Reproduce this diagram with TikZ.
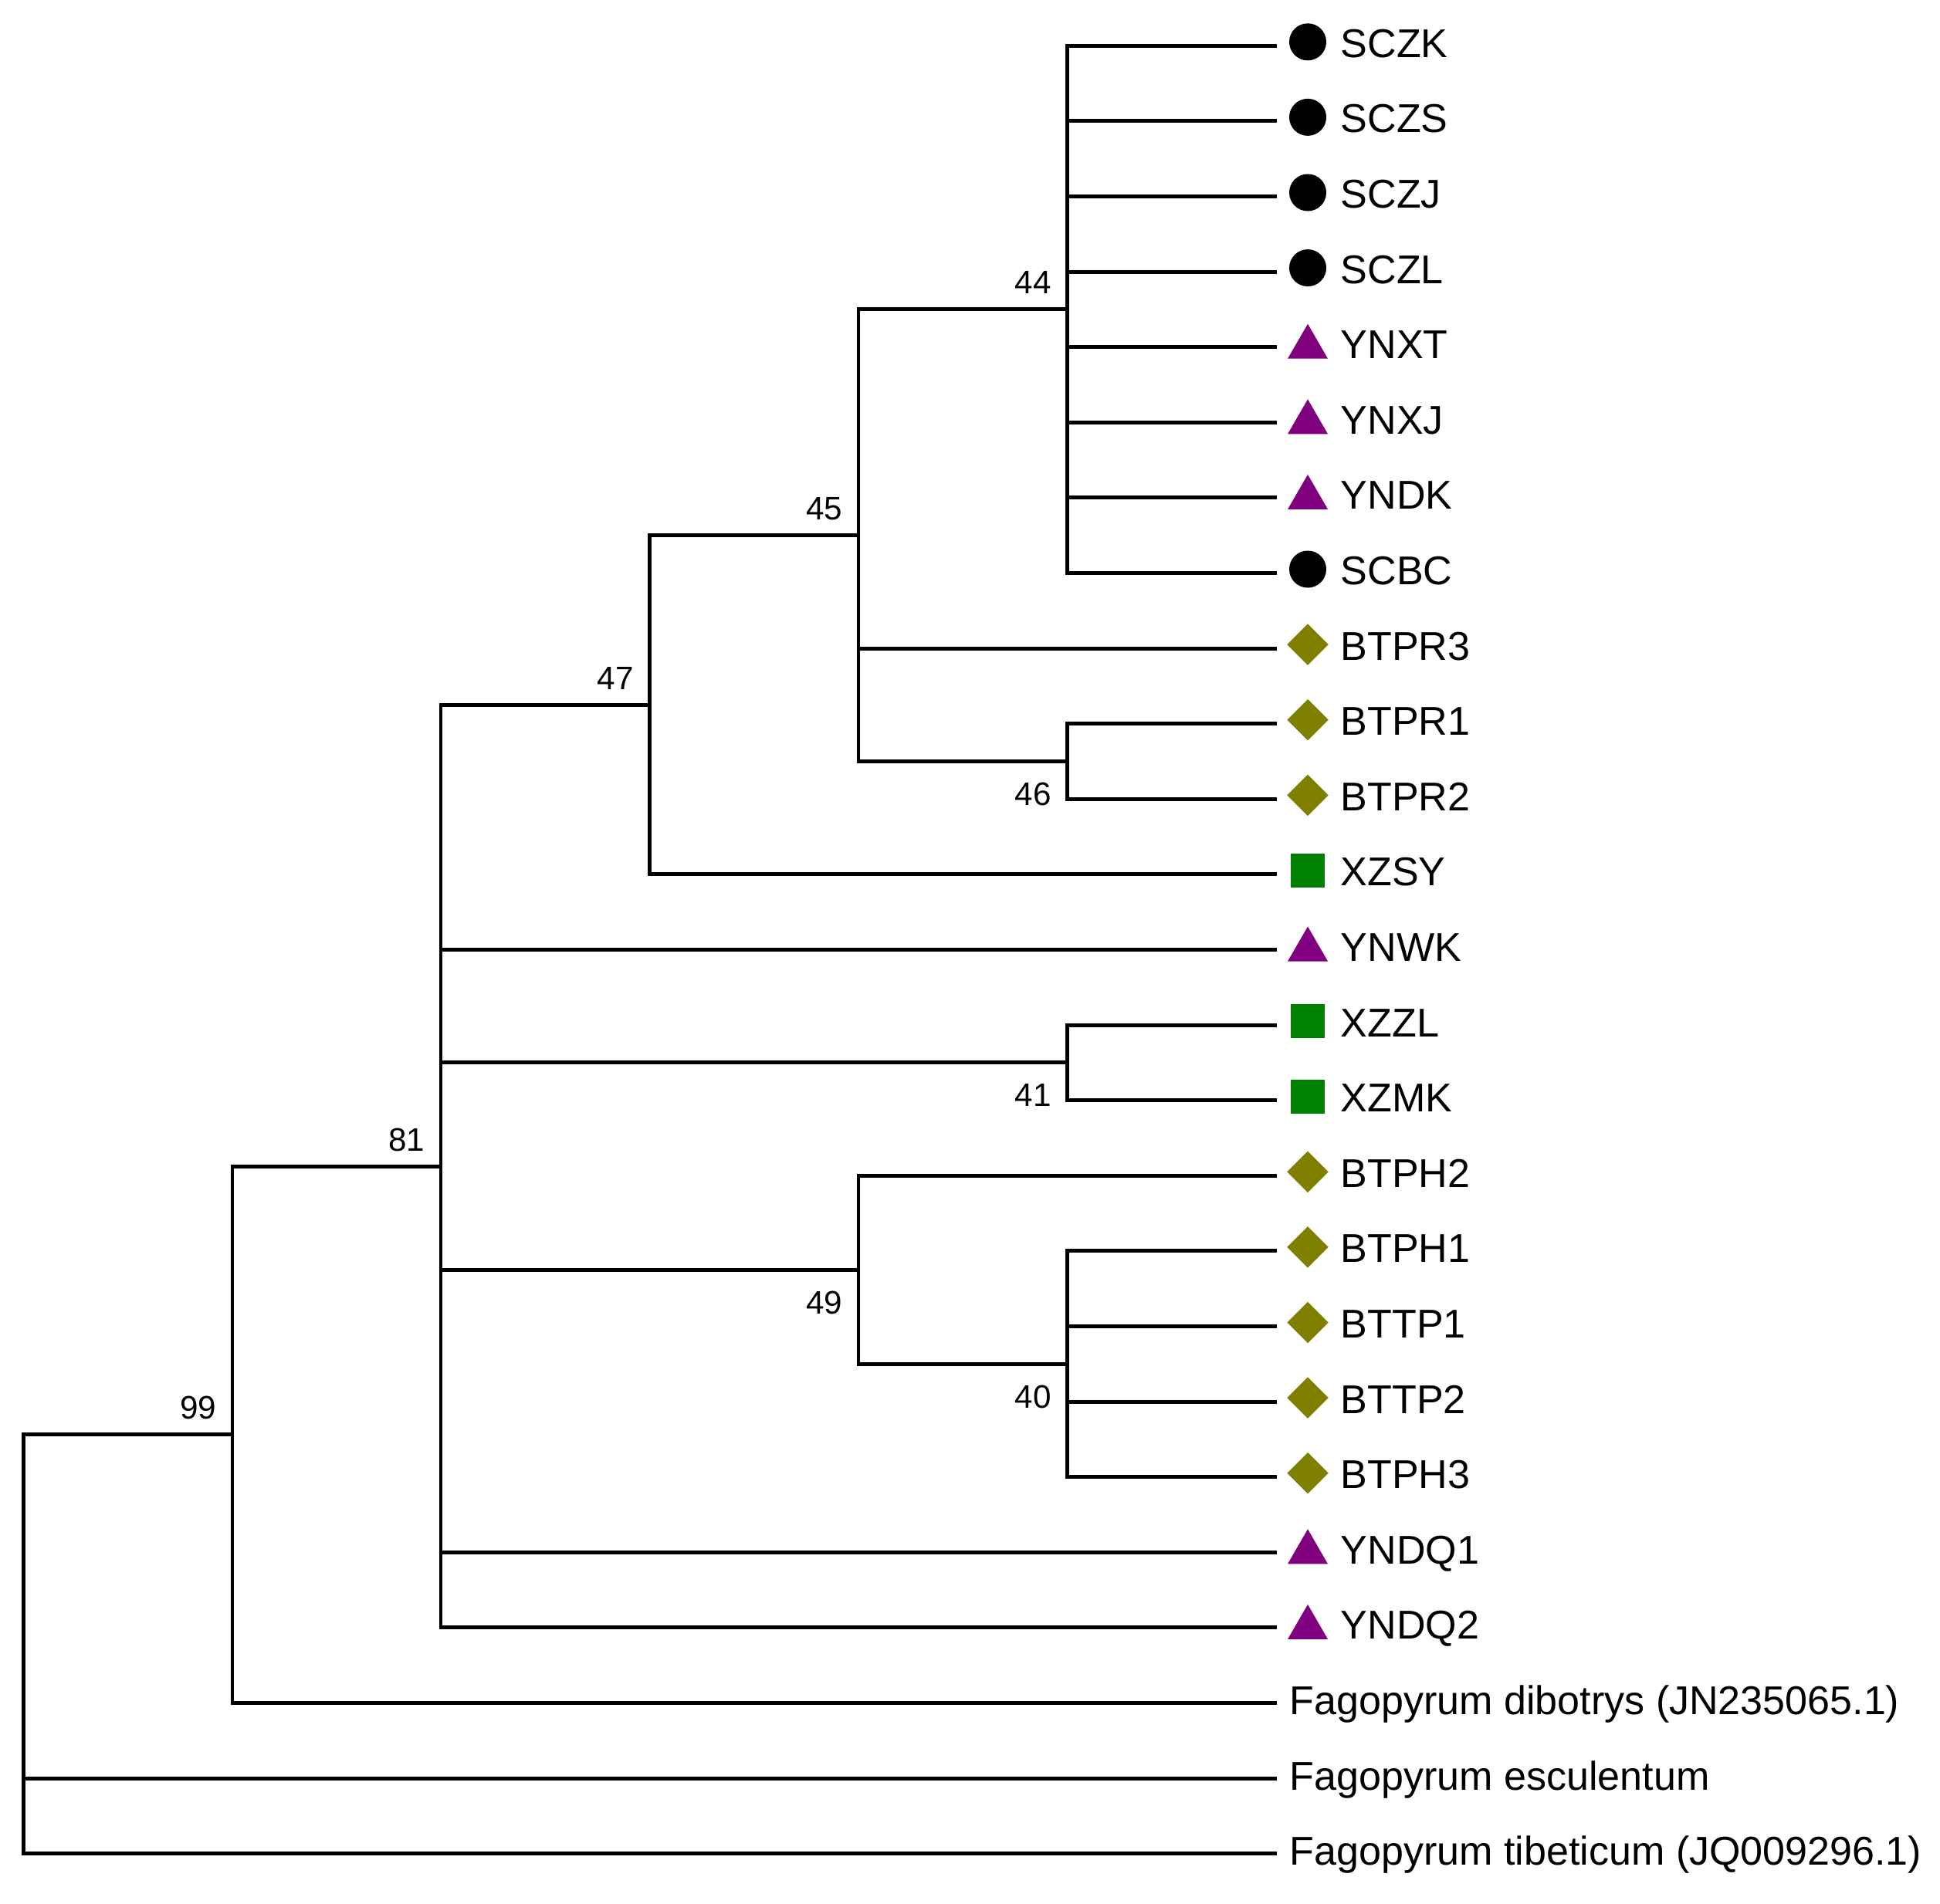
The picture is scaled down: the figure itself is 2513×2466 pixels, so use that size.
\documentclass[tikz,border=0pt]{standalone}
\usepackage{fontspec}
\setmainfont{Liberation Sans}
\usetikzlibrary{shapes.geometric}
\definecolor{tripurple}{RGB}{128,0,128}
\definecolor{diaolive}{RGB}{128,128,0}
\definecolor{sqgreen}{RGB}{0,128,0}
\newcommand{\rowy}[1]{59.3+97.6*#1}
\begin{document}
\begin{tikzpicture}[x=0.01cm,y=-0.01cm,
  branch/.style={line width=1.4pt, line join=miter},
  circ/.style={circle, fill=black, inner sep=0pt, minimum size=0.48cm, yshift=0.05cm},
  tri/.style={regular polygon, regular polygon sides=3, fill=tripurple, inner sep=0pt, minimum size=0.6cm},
  dia/.style={diamond, fill=diaolive, inner sep=0pt, minimum width=0.54cm, minimum height=0.54cm, yshift=0.05cm},
  sq/.style={rectangle, fill=sqgreen, inner sep=0pt, minimum size=0.44cm, yshift=0.05cm},
  leaflab/.style={anchor=base west, inner sep=0pt, font=\fontsize{14.8pt}{17pt}\selectfont},
  boot/.style={anchor=base east, inner sep=0pt, font=\fontsize{12pt}{14pt}\selectfont}]
\fill[white] (0,0) rectangle (2513,2466);
\useasboundingbox (0,0) rectangle (2513,2466);

% leaf ends
\coordinate (e0) at (1654,{\rowy{0}});
\coordinate (e1) at (1654,{\rowy{1}});
\coordinate (e2) at (1654,{\rowy{2}});
\coordinate (e3) at (1654,{\rowy{3}});
\coordinate (e4) at (1654,{\rowy{4}});
\coordinate (e5) at (1654,{\rowy{5}});
\coordinate (e6) at (1654,{\rowy{6}});
\coordinate (e7) at (1654,{\rowy{7}});
\coordinate (e8) at (1654,{\rowy{8}});
\coordinate (e9) at (1654,{\rowy{9}});
\coordinate (e10) at (1654,{\rowy{10}});
\coordinate (e11) at (1654,{\rowy{11}});
\coordinate (e12) at (1654,{\rowy{12}});
\coordinate (e13) at (1654,{\rowy{13}});
\coordinate (e14) at (1654,{\rowy{14}});
\coordinate (e15) at (1654,{\rowy{15}});
\coordinate (e16) at (1654,{\rowy{16}});
\coordinate (e17) at (1654,{\rowy{17}});
\coordinate (e18) at (1654,{\rowy{18}});
\coordinate (e19) at (1654,{\rowy{19}});
\coordinate (e20) at (1654,{\rowy{20}});
\coordinate (e21) at (1654,{\rowy{21}});
\coordinate (e22) at (1654,{\rowy{22}});
\coordinate (e23) at (1654,{\rowy{23}});
\coordinate (e24) at (1654,{\rowy{24}});

% symbols
\node[circ] (s0) at (1694,{\rowy{0}}) {};
\node[circ] (s1) at (1694,{\rowy{1}}) {};
\node[circ] (s2) at (1694,{\rowy{2}}) {};
\node[circ] (s3) at (1694,{\rowy{3}}) {};
\node[tri]  (s4) at (1694,{\rowy{4}}) {};
\node[tri]  (s5) at (1694,{\rowy{5}}) {};
\node[tri]  (s6) at (1694,{\rowy{6}}) {};
\node[circ] (s7) at (1694,{\rowy{7}}) {};
\node[dia]  (s8) at (1694,{\rowy{8}}) {};
\node[dia]  (s9) at (1694,{\rowy{9}}) {};
\node[dia]  (s10) at (1694,{\rowy{10}}) {};
\node[sq]   (s11) at (1694,{\rowy{11}}) {};
\node[tri]  (s12) at (1694,{\rowy{12}}) {};
\node[sq]   (s13) at (1694,{\rowy{13}}) {};
\node[sq]   (s14) at (1694,{\rowy{14}}) {};
\node[dia]  (s15) at (1694,{\rowy{15}}) {};
\node[dia]  (s16) at (1694,{\rowy{16}}) {};
\node[dia]  (s17) at (1694,{\rowy{17}}) {};
\node[dia]  (s18) at (1694,{\rowy{18}}) {};
\node[dia]  (s19) at (1694,{\rowy{19}}) {};
\node[tri]  (s20) at (1694,{\rowy{20}}) {};
\node[tri]  (s21) at (1694,{\rowy{21}}) {};

% leaf labels
\node[leaflab] (t0) at (1736,{\rowy{0}+15}) {SCZK};
\node[leaflab] (t1) at (1736,{\rowy{1}+15}) {SCZS};
\node[leaflab] (t2) at (1736,{\rowy{2}+15}) {SCZJ};
\node[leaflab] (t3) at (1736,{\rowy{3}+15}) {SCZL};
\node[leaflab] (t4) at (1736,{\rowy{4}+15}) {YNXT};
\node[leaflab] (t5) at (1736,{\rowy{5}+15}) {YNXJ};
\node[leaflab] (t6) at (1736,{\rowy{6}+15}) {YNDK};
\node[leaflab] (t7) at (1736,{\rowy{7}+15}) {SCBC};
\node[leaflab] (t8) at (1736,{\rowy{8}+15}) {BTPR3};
\node[leaflab] (t9) at (1736,{\rowy{9}+15}) {BTPR1};
\node[leaflab] (t10) at (1736,{\rowy{10}+15}) {BTPR2};
\node[leaflab] (t11) at (1736,{\rowy{11}+15}) {XZSY};
\node[leaflab] (t12) at (1736,{\rowy{12}+15}) {YNWK};
\node[leaflab] (t13) at (1736,{\rowy{13}+15}) {XZZL};
\node[leaflab] (t14) at (1736,{\rowy{14}+15}) {XZMK};
\node[leaflab] (t15) at (1736,{\rowy{15}+15}) {BTPH2};
\node[leaflab] (t16) at (1736,{\rowy{16}+15}) {BTPH1};
\node[leaflab] (t17) at (1736,{\rowy{17}+15}) {BTTP1};
\node[leaflab] (t18) at (1736,{\rowy{18}+15}) {BTTP2};
\node[leaflab] (t19) at (1736,{\rowy{19}+15}) {BTPH3};
\node[leaflab] (t20) at (1736,{\rowy{20}+15}) {YNDQ1};
\node[leaflab] (t21) at (1736,{\rowy{21}+15}) {YNDQ2};
\node[leaflab] (t22) at (1670,{\rowy{22}+15}) {Fagopyrum dibotrys (JN235065.1)};
\node[leaflab] (t23) at (1670,{\rowy{23}+15}) {Fagopyrum esculentum};
\node[leaflab] (t24) at (1670,{\rowy{24}+15}) {Fagopyrum tibeticum (JQ009296.1)};

% internal nodes
\coordinate (n44) at (1382.5,{\rowy{3.5}});
\coordinate (n46) at (1382.5,{\rowy{9.5}});
\coordinate (n45) at (1112,{\rowy{6.5}});
\coordinate (n47) at (841.5,{\rowy{8.75}});
\coordinate (n41) at (1382.5,{\rowy{13.5}});
\coordinate (n40) at (1382.5,{\rowy{17.5}});
\coordinate (n49) at (1112,{\rowy{16.25}});
\coordinate (n81) at (571,{\rowy{14.875}});
\coordinate (n99) at (301,{\rowy{18.4375}});
\coordinate (root) at (30.5,{\rowy{21.21875}});

% branches
\foreach \c in {e0,e1,e2,e3,e4,e5,e6,e7} \draw[branch] (n44) |- (\c);
\foreach \c in {e9,e10} \draw[branch] (n46) |- (\c);
\foreach \c in {n44,e8,n46} \draw[branch] (n45) |- (\c);
\foreach \c in {n45,e11} \draw[branch] (n47) |- (\c);
\foreach \c in {e13,e14} \draw[branch] (n41) |- (\c);
\foreach \c in {e16,e17,e18,e19} \draw[branch] (n40) |- (\c);
\foreach \c in {e15,n40} \draw[branch] (n49) |- (\c);
\foreach \c in {n47,e12,n41,n49,e20,e21} \draw[branch] (n81) |- (\c);
\foreach \c in {n81,e22} \draw[branch] (n99) |- (\c);
\foreach \c in {n99,e23,e24} \draw[branch] (root) |- (\c);

% bootstrap values
\node[boot] (b44) at (1362.5,{\rowy{3.5}-20}) {44};
\node[boot] (b45) at (1092,{\rowy{6.5}-20}) {45};
\node[boot] (b47) at (821.5,{\rowy{8.75}-20}) {47};
\node[boot] (b81) at (551,{\rowy{14.875}-20}) {81};
\node[boot] (b99) at (281,{\rowy{18.4375}-20}) {99};
\node[boot] (b46) at (1362.5,{\rowy{9.5}+57}) {46};
\node[boot] (b41) at (1362.5,{\rowy{13.5}+57}) {41};
\node[boot] (b49) at (1092,{\rowy{16.25}+57}) {49};
\node[boot] (b40) at (1362.5,{\rowy{17.5}+57}) {40};
\end{tikzpicture}
\end{document}
